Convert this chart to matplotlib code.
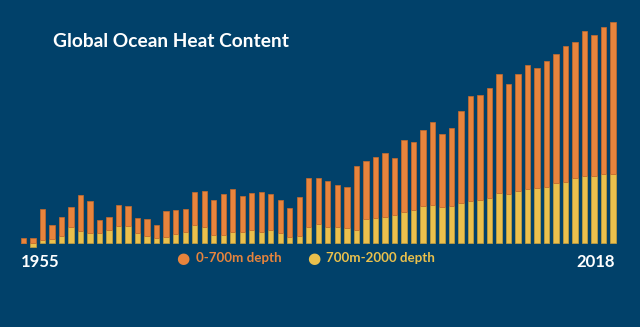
import matplotlib
matplotlib.use("Agg")
import matplotlib.pyplot as plt
import numpy as np

# (no axis on the chart, so units are arbitrary)
years = list(range(1955, 2018))
total = [5, 5, 34.7, 18.3, 26.7, 36.7, 48, 42.7, 23.3, 26.7, 38.3,
         37.3, 25.7, 24.3, 18.3, 32.3, 33, 34, 51, 52.3, 43, 49.3,
         54.7, 47.3, 50, 51, 49, 43, 35.7, 46, 65, 65, 62.7,
         58.3, 56.7, 77.7, 82, 86, 90.3, 85, 103, 101.7, 113, 121,
         109.7, 115.3, 132, 147.3, 148.7, 155.3, 169, 159.7, 169, 178,
         175.3, 182, 189.3, 197.3, 201.3, 212, 208.7, 216, 221.7]
deep = [0, -4, 3.3, 4.3, 7.7, 16.3, 12.3, 10.7, 10.7, 13.3, 17.3,
        17.3, 10.7, 7.7, 5.7, 6.7, 9.3, 11.7, 18.7, 16.3, 8.7, 8.7,
        11.3, 11.3, 13.3, 11.3, 13, 10.7, 6.3, 7, 16.3, 19.3, 16.3,
        16.7, 15.7, 13, 24.3, 25.7, 26.7, 28.7, 31.3, 33.7, 37.3, 38.3,
        36.7, 37.7, 40.3, 42.7, 43.3, 45.7, 50.3, 49, 52.7, 54,
        55.3, 56.7, 60.3, 61.7, 65.7, 67, 67, 69, 69]

total = np.array(total)
deep = np.array(deep)
base = np.clip(deep, 0, None)
shallow = total - base

BG = "#01416A"
ORANGE = "#E8843C"
YELLOW = "#EAC04C"

fig = plt.figure(figsize=(6.4, 3.27), dpi=100, facecolor=BG)
ax = fig.add_axes([0, 0, 1, 1])
ax.set_facecolor(BG)

x = np.arange(len(years))
ax.bar(x, deep, width=0.56, color=YELLOW, edgecolor="#C9A13C", linewidth=0.5)
ax.bar(x, shallow, bottom=base, width=0.56, color=ORANGE,
       edgecolor="#C96B2C", linewidth=0.5)

pitch = 9.51
ax.set_xlim(-23.5 / pitch, (640 - 23.5) / pitch)
ax.set_ylim(243.3 - 327, 243.3)
ax.axis("off")

font = "Lato"
fig.text(53 / 640, 1 - 41.5 / 327, "Global Ocean Heat Content", color="white",
         fontsize=13.8, fontweight="bold", family=font, va="center", ha="left")
fig.text(21 / 640, 1 - 262 / 327, "1955", color="white", fontsize=12,
         fontweight="bold", family=font, va="center", ha="left")
fig.text(615 / 640, 1 - 262 / 327, "2018", color="white", fontsize=12,
         fontweight="bold", family=font, va="center", ha="right")

# legend
fig.text(182.5 / 640, 1 - 258.5 / 327, "\u25CF", color=ORANGE, fontsize=11,
         family="DejaVu Sans", va="center", ha="center")
fig.text(196.5 / 640, 1 - 258.5 / 327, "0-700m depth", color=ORANGE,
         fontsize=9.6, fontweight="bold", family=font, va="center", ha="left")
fig.text(314 / 640, 1 - 258.5 / 327, "\u25CF", color=YELLOW, fontsize=11,
         family="DejaVu Sans", va="center", ha="center")
fig.text(326 / 640, 1 - 258.5 / 327, "700m-2000 depth", color=YELLOW,
         fontsize=9.6, fontweight="bold", family=font, va="center", ha="left")

fig.savefig("out.png", dpi=100, facecolor=BG)
